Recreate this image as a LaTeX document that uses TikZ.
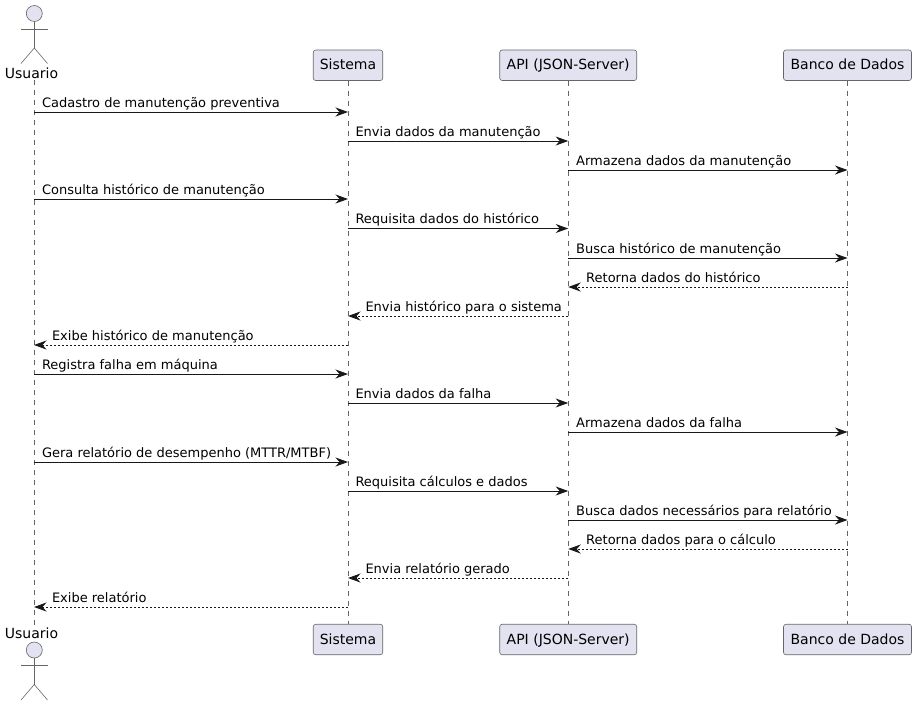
\documentclass[tikz,border=0pt]{standalone}
\usepackage{fontspec}
\setmainfont{DejaVu Sans}
\usetikzlibrary{arrows.meta}
\definecolor{boxfill}{HTML}{E2E2F0}
\definecolor{inkline}{HTML}{181818}
\definecolor{thinline}{HTML}{666666}
\tikzset{
  partbox/.style={draw=thinline, fill=boxfill, line width=0.6pt, rounded corners=2.5pt, inner sep=0pt, text height=11pt, text depth=2pt, font=\fontsize{14}{16}\selectfont},
  lifeline/.style={draw=thinline, line width=0.6pt, dash pattern=on 5pt off 5pt},
  actorline/.style={draw=thinline, line width=0.6pt},
  actorname/.style={inner sep=0pt, font=\fontsize{14}{16}\selectfont},
  msgline/.style={draw=inkline, line width=1pt, -{Stealth[length=12.5pt,width=9pt,inset=4pt]}},
  msgback/.style={msgline, dash pattern=on 2pt off 2pt},
  msglabel/.style={inner sep=0pt, anchor=base west, yshift=5pt, font=\fontsize{13}{15}\selectfont}
}
\begin{document}
\begin{tikzpicture}[x=1pt, y=-1pt]
\useasboundingbox (0,0) rectangle (917,705);
% lifelines
\coordinate (us) at (34,80);
\coordinate (usf) at (34,625);
\node[partbox, minimum width=69.5pt, minimum height=30.5pt] (si) at (348,65.25) {Sistema};
\node[partbox, minimum width=137pt, minimum height=30.5pt] (ap) at (568.2,65.25) {API (JSON-Server)};
\node[partbox, minimum width=128pt, minimum height=30.5pt] (bd) at (847.5,65.25) {Banco de Dados};
\node[partbox, minimum width=69.5pt, minimum height=30.5pt] (sif) at (348,639.5) {Sistema};
\node[partbox, minimum width=137pt, minimum height=30.5pt] (apf) at (568.2,639.5) {API (JSON-Server)};
\node[partbox, minimum width=128pt, minimum height=30.5pt] (bdf) at (847.5,639.5) {Banco de Dados};
\draw[lifeline] (us) -- (usf);
\draw[lifeline] (si) -- (sif);
\draw[lifeline] (ap) -- (apf);
\draw[lifeline] (bd) -- (bdf);
% actors
\node[actorname] (usname) at (31.5,73) {Usuario};
\node[actorname] (usnamef) at (31.5,633) {Usuario};
\foreach \ya in {13.5,650} {
  \draw[actorline, fill=boxfill] (34.3,\ya) circle (8);
  \draw[actorline] (34.3,\ya+8) -- (34.3,\ya+34.5);
  \draw[actorline] (21,\ya+15.5) -- (47.5,\ya+15.5);
  \draw[actorline] (21,\ya+50) -- (34.3,\ya+34.5) -- (47.5,\ya+50);
}
% messages
\foreach \i/\ym/\a/\b/\kind/\p/\off/\txt in {
  1/112/us/si/msgline/0/7.5/{Cadastro de manutenção preventiva},
  2/141/si/ap/msgline/0/7/{Envia dados da manutenção},
  3/170/ap/bd/msgline/0/7.5/{Armazena dados da manutenção},
  4/199/us/si/msgline/0/7.5/{Consulta histórico de manutenção},
  5/228.5/si/ap/msgline/0/7/{Requisita dados do histórico},
  6/258/ap/bd/msgline/0/7.5/{Busca histórico de manutenção},
  7/287/bd/ap/msgback/1/17.5/{Retorna dados do histórico},
  8/316/ap/si/msgback/1/17/{Envia histórico para o sistema},
  9/345/si/us/msgback/1/17.5/{Exibe histórico de manutenção},
  10/374/us/si/msgline/0/7.5/{Registra falha em máquina},
  11/403/si/ap/msgline/0/7/{Envia dados da falha},
  12/432/ap/bd/msgline/0/7.5/{Armazena dados da falha},
  13/462/us/si/msgline/0/7.5/{Gera relatório de desempenho (MTTR/MTBF)},
  14/491/si/ap/msgline/0/7/{Requisita cálculos e dados},
  15/520/ap/bd/msgline/0/7.5/{Busca dados necessários para relatório},
  16/549/bd/ap/msgback/1/17.5/{Retorna dados para o cálculo},
  17/578/ap/si/msgback/1/17/{Envia relatório gerado},
  18/607/si/us/msgback/1/17.5/{Exibe relatório}} {
  \coordinate (from\i) at (\a |- 0,\ym);
  \coordinate (to\i) at (\b |- 0,\ym);
  \draw[\kind] (from\i) -- (to\i) node[msglabel, pos=\p, xshift=\off pt] (lab\i) {\txt};
}
\end{tikzpicture}
\end{document}
